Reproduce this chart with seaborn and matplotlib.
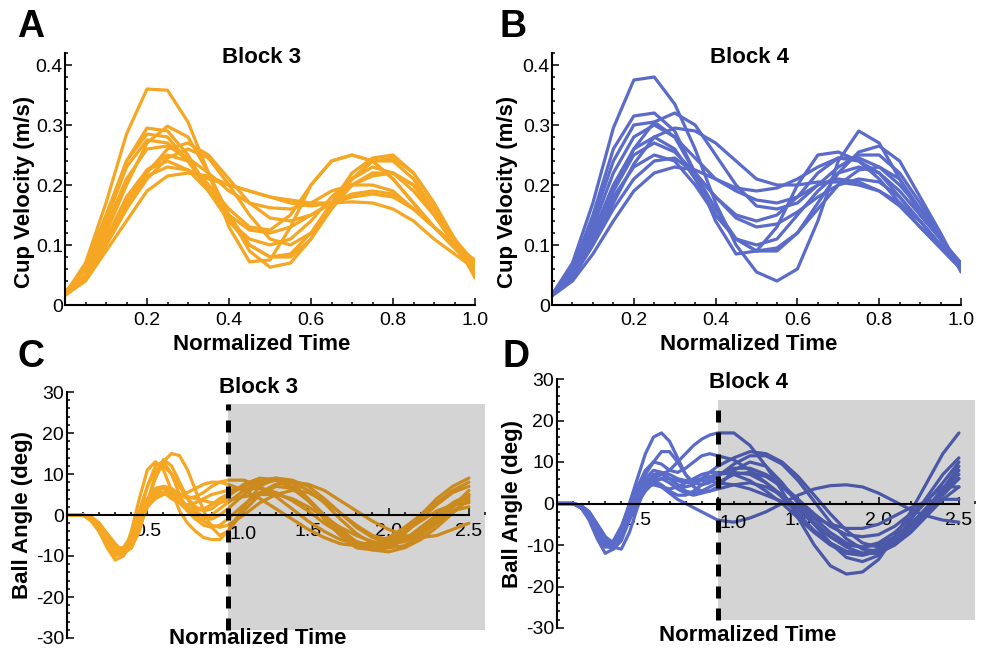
import numpy as np
import pandas as pd
import matplotlib
matplotlib.use("Agg")
import matplotlib.pyplot as plt
import seaborn as sns
from matplotlib.patches import Rectangle
from matplotlib.ticker import MultipleLocator

# ---- data ----
t_cup = [0.0, 0.05, 0.1, 0.15, 0.2, 0.25, 0.3, 0.35, 0.4, 0.45, 0.5,
         0.55, 0.6, 0.65, 0.7, 0.75, 0.8, 0.85, 0.9, 0.95, 1.0]

t_ball = [0.0, 0.05, 0.1, 0.15, 0.2, 0.25, 0.3, 0.35, 0.4, 0.45, 0.5,
          0.55, 0.6, 0.65, 0.7, 0.75, 0.8, 0.85, 0.9, 0.95, 1.0,
          1.1, 1.2, 1.3, 1.4, 1.5, 1.6, 1.7, 1.8, 1.9, 2.0, 2.1, 2.2, 2.3, 2.4, 2.5]

# cup velocity (m/s), block 3
cup_block3 = [
    [0.018, 0.07, 0.17, 0.285, 0.36, 0.358, 0.305, 0.22, 0.13, 0.072, 0.075, 0.13, 0.2, 0.24, 0.25, 0.24, 0.21, 0.17, 0.13, 0.1, 0.075],
    [0.018, 0.06, 0.14, 0.24, 0.295, 0.29, 0.25, 0.19, 0.14, 0.1, 0.08, 0.085, 0.12, 0.17, 0.21, 0.24, 0.24, 0.21, 0.16, 0.11, 0.06],
    [0.017, 0.05, 0.12, 0.2, 0.27, 0.298, 0.28, 0.22, 0.15, 0.09, 0.063, 0.07, 0.11, 0.17, 0.22, 0.245, 0.25, 0.22, 0.17, 0.11, 0.05],
    [0.02, 0.065, 0.15, 0.24, 0.285, 0.28, 0.24, 0.19, 0.14, 0.11, 0.1, 0.11, 0.14, 0.18, 0.21, 0.23, 0.22, 0.19, 0.15, 0.11, 0.07],
    [0.02, 0.06, 0.14, 0.23, 0.275, 0.27, 0.24, 0.2, 0.16, 0.13, 0.125, 0.15, 0.2, 0.24, 0.25, 0.24, 0.21, 0.17, 0.13, 0.1, 0.065],
    [0.017, 0.045, 0.1, 0.16, 0.22, 0.26, 0.27, 0.25, 0.21, 0.17, 0.145, 0.14, 0.15, 0.17, 0.2, 0.215, 0.22, 0.2, 0.16, 0.11, 0.06],
    [0.02, 0.06, 0.13, 0.21, 0.26, 0.265, 0.245, 0.22, 0.19, 0.17, 0.162, 0.16, 0.17, 0.19, 0.2, 0.2, 0.19, 0.16, 0.13, 0.1, 0.07],
    [0.016, 0.045, 0.1, 0.17, 0.225, 0.25, 0.24, 0.2, 0.15, 0.1, 0.08, 0.08, 0.11, 0.16, 0.21, 0.24, 0.245, 0.22, 0.17, 0.11, 0.045],
    [0.018, 0.05, 0.11, 0.17, 0.215, 0.23, 0.225, 0.21, 0.2, 0.19, 0.18, 0.175, 0.17, 0.17, 0.172, 0.17, 0.16, 0.14, 0.11, 0.085, 0.06],
    [0.016, 0.04, 0.09, 0.14, 0.19, 0.215, 0.22, 0.215, 0.2, 0.19, 0.18, 0.17, 0.165, 0.17, 0.18, 0.185, 0.18, 0.16, 0.13, 0.095, 0.06],
    [0.016, 0.045, 0.1, 0.16, 0.21, 0.245, 0.26, 0.245, 0.2, 0.15, 0.11, 0.1, 0.12, 0.16, 0.2, 0.22, 0.22, 0.2, 0.15, 0.1, 0.05],
    [0.017, 0.05, 0.11, 0.18, 0.225, 0.24, 0.225, 0.19, 0.15, 0.125, 0.12, 0.13, 0.15, 0.17, 0.185, 0.19, 0.185, 0.16, 0.13, 0.095, 0.06],
]

# cup velocity (m/s), block 4
cup_block4 = [
    [0.017, 0.07, 0.17, 0.295, 0.375, 0.38, 0.335, 0.26, 0.17, 0.1, 0.055, 0.04, 0.06, 0.14, 0.24, 0.29, 0.27, 0.21, 0.15, 0.11, 0.07],
    [0.017, 0.06, 0.15, 0.26, 0.315, 0.32, 0.29, 0.22, 0.14, 0.085, 0.09, 0.13, 0.2, 0.25, 0.255, 0.24, 0.21, 0.17, 0.13, 0.095, 0.06],
    [0.016, 0.05, 0.11, 0.19, 0.26, 0.305, 0.32, 0.3, 0.25, 0.2, 0.165, 0.16, 0.17, 0.2, 0.23, 0.25, 0.25, 0.22, 0.17, 0.115, 0.06],
    [0.018, 0.06, 0.14, 0.24, 0.3, 0.305, 0.28, 0.22, 0.16, 0.11, 0.09, 0.09, 0.12, 0.17, 0.22, 0.255, 0.265, 0.24, 0.18, 0.12, 0.055],
    [0.016, 0.045, 0.1, 0.17, 0.235, 0.28, 0.295, 0.29, 0.27, 0.24, 0.21, 0.2, 0.2, 0.205, 0.205, 0.2, 0.19, 0.17, 0.14, 0.1, 0.065],
    [0.018, 0.055, 0.13, 0.22, 0.28, 0.3, 0.28, 0.245, 0.21, 0.195, 0.19, 0.195, 0.21, 0.23, 0.245, 0.245, 0.23, 0.2, 0.16, 0.11, 0.06],
    [0.018, 0.055, 0.12, 0.2, 0.26, 0.28, 0.26, 0.21, 0.15, 0.11, 0.1, 0.11, 0.15, 0.19, 0.22, 0.23, 0.22, 0.19, 0.15, 0.11, 0.065],
    [0.017, 0.05, 0.12, 0.19, 0.25, 0.27, 0.255, 0.22, 0.18, 0.15, 0.14, 0.15, 0.18, 0.22, 0.245, 0.24, 0.22, 0.18, 0.14, 0.1, 0.07],
    [0.017, 0.05, 0.11, 0.18, 0.23, 0.25, 0.24, 0.2, 0.15, 0.11, 0.09, 0.095, 0.12, 0.16, 0.2, 0.225, 0.23, 0.21, 0.16, 0.11, 0.06],
    [0.016, 0.045, 0.1, 0.16, 0.21, 0.24, 0.245, 0.22, 0.18, 0.145, 0.13, 0.135, 0.155, 0.18, 0.2, 0.21, 0.205, 0.18, 0.14, 0.1, 0.065],
    [0.015, 0.04, 0.085, 0.14, 0.19, 0.22, 0.23, 0.225, 0.21, 0.19, 0.175, 0.17, 0.18, 0.2, 0.21, 0.205, 0.19, 0.165, 0.13, 0.095, 0.06],
]

# ball angle (deg), block 3
ball_block3 = [
    [0, 0, 0, -1, -4, -8, -11, -10, -4, 4, 11, 13, 11, 6, 1, -2, -4, -5.5, -6, -6, -4,
     2, 7, 9, 8, 4, -1, -5, -8, -8.5, -7, -4, 0, 4, 7, 9],
    [0, 0, 0, -0.5, -2, -5, -8, -9.5, -8, -3, 3, 9, 13, 15, 14.5, 11, 6, 1, -3, -5, -4,
     1, 5, 7, 6.5, 4, 0, -4, -7, -8.5, -8, -6, -3, 0, 3, 5],
    [0, 0, 0, -1, -3, -6.5, -9.5, -10, -6, 0, 7, 12, 13, 10, 5, 1, -1, -1, 0, 1.5, 3,
     6, 8, 8.5, 7, 3.5, -0.5, -4.5, -7, -8, -7, -4.5, -1, 2.5, 5.5, 7],
    [0, 0, 0, -0.5, -2, -5, -7.5, -8.5, -7, -3, 2, 5.5, 7, 6.5, 5, 4, 4.5, 5.5, 7, 8, 8.5,
     8.5, 7, 4.5, 1.5, -1.5, -4, -6, -7, -7, -6, -4, -1.5, 1, 2.5, 3],
    [0, 0, 0, -1, -3, -6, -8.5, -9, -6, -1, 4, 6, 5.5, 4, 3, 2.5, 3, 4, 5, 5.5, 6,
     6.5, 6.5, 5.5, 3.5, 1, -2, -4.5, -6.5, -7.5, -7.5, -6, -3.5, -0.5, 2.5, 4.5],
    [0, 0, 0, -1.5, -4, -7.5, -10, -9, -5, 0, 4, 6.5, 7, 6, 4, 2, 1, 1.5, 2.5, 4, 5,
     7, 8.5, 9, 8.5, 7, 4, 0.5, -3, -5.5, -6.5, -6, -4, -1, 2, 5],
    [0, 0, 0, -1, -3, -6, -8, -8, -5, -1, 2, 4, 5, 5, 4, 2, 0, -1.5, -2.5, -3, -2.5,
     0, 3, 5, 6, 5.5, 3.5, 0.5, -2.5, -5, -6, -5.5, -4, -1.5, 1, 3.5],
    [0, 0, 0, -0.5, -2, -4.5, -7, -9, -8, -4, 3, 10, 13.5, 12, 8, 4, 1, -0.5, -1, 0, 1.5,
     5, 7.5, 8.5, 8, 6, 3, -1, -4.5, -7, -8, -7.5, -5, -2, 2, 6],
    [0, 0, 0, -1, -3.5, -7, -9.5, -9.5, -6, -1, 3, 5, 5.5, 5, 5, 5.5, 6.5, 7.5, 8, 8, 7.5,
     6, 4, 1.5, -1, -3.5, -5.5, -7, -7.5, -7, -5.5, -3, 0, 3, 6, 8],
    [0, 0, 0, -1, -3, -6, -9, -10, -7, -2, 3, 6, 6.5, 5, 3, 1, -1, -2.5, -3, -2.5, -1,
     2.5, 5.5, 7.5, 8, 7.5, 6, 3.5, 1, -1.5, -3.5, -5, -5.5, -5, -3.5, -2],
    [0, 0, 0, -0.5, -2.5, -5.5, -8, -8.5, -6, -2, 2, 4.5, 5.5, 5.5, 5, 4.5, 4, 3.5, 3, 3, 3.5,
     4.5, 5, 5, 4, 2, -0.5, -3, -5, -6.5, -7, -6.5, -4.5, -2, 1, 2],
    [0, 0, 0, -1, -3.5, -7, -9.5, -9, -5, 1, 7, 11, 12, 10, 7, 4, 2, 1, 1.5, 3, 4.5,
     7.5, 9, 8.5, 6.5, 3.5, 0, -3.5, -6.5, -8.5, -9, -8, -6, -3, 0.5, 4],
]

# ball angle (deg), block 4
ball_block4 = [
    [0, 0, 0, -1, -4, -8.5, -12, -11, -6, 0, 6, 12, 16, 17, 15, 11, 7, 4, 3, 3, 4,
     8, 10, 9, 5, 0, -5, -9.5, -13, -14, -12.5, -9, -4, 1.5, 7, 11],
    [0, 0, 0, -0.5, -2.5, -6, -9, -10, -7, -2, 2.5, 4.5, 5, 4, 2.5, 1, 0, -1, -2, -3, -4,
     -4.5, -3.5, -2, 0, 2, 3.5, 4.3, 4.5, 4, 2.5, 0.5, -1.5, -3, -4, -4.5],
    [0, 0, 0, -0.5, -2, -5, -8, -10.5, -11, -7, -1, 4, 6, 7, 8, 10, 12, 14, 15.5, 16.5, 17,
     17, 14, 9, 3, -3.5, -10, -15, -17, -16.5, -13.5, -8, -2, 5, 12, 17],
    [0, 0, 0, -1, -3.5, -7.5, -10.5, -10.5, -7, -2, 3, 7, 10, 12.5, 12.5, 10, 7, 5, 4.5, 5, 6.5,
     9.5, 11.5, 11.5, 9.5, 5.5, 0.5, -4.5, -8.5, -11, -11.5, -10, -6.5, -2, 3, 8],
    [0, 0, 0, -1, -3, -6.5, -9.5, -10, -7, -1.5, 4, 8, 10, 9.5, 8, 7.5, 8.5, 10, 11.5, 12, 11.5,
     10.5, 8, 5, 1.5, -2.5, -6.5, -9.5, -11.5, -12, -11, -8.5, -5, -1, 3.5, 7],
    [0, 0, 0, -1, -3.5, -7, -10, -11, -8.5, -3, 2, 6, 8, 7.5, 6, 4.5, 4, 4.5, 6, 7.5, 9,
     11, 12.5, 12, 10, 6.5, 2, -2.5, -6.5, -9.5, -10.5, -9.5, -6.5, -2.5, 2, 6],
    [0, 0, 0, -0.5, -2.5, -5.5, -8.5, -9.5, -8, -3.5, 1, 4.5, 6.5, 7, 6, 4.5, 3, 2.5, 3, 4, 5,
     7, 7.5, 6.5, 4, 0.5, -3.5, -7, -9.5, -10.5, -10, -8, -5, -1, 3, 6],
    [0, 0, 0, -1, -3, -6.5, -9.5, -9, -5.5, -0.5, 3.5, 5.5, 5.5, 4.5, 3, 2, 2, 3, 4.5, 6, 7,
     8.5, 8.5, 7, 4.5, 1, -2.5, -5.5, -7.5, -8, -7.5, -5.5, -2.5, 1, 4, 4],
    [0, 0, 0, -1, -3.5, -7, -10, -10, -7, -2, 2, 4, 4.5, 4, 3.5, 4, 5, 6, 7, 7.5, 7.5,
     7, 5.5, 3, 0, -3.5, -7, -10, -12, -12.5, -11.5, -9, -5.5, -1.5, 3.5, 9],
    [0, 0, 0, -1, -3, -6, -9, -11, -9, -4, 1, 5, 7, 7.5, 7, 6, 5.5, 5.5, 6, 6.5, 7,
     7.5, 7, 5, 2, -1.5, -5, -8, -10, -10.5, -9.5, -7, -3.5, 0.5, 5, 10],
    [0, 0, 0, -0.5, -2, -5, -8, -9.5, -8, -4, 0, 3, 5, 6, 6, 5.5, 5, 5, 5.5, 5.5, 5,
     4.5, 3.5, 2, 0.5, -1.5, -3.5, -5, -6, -6, -5, -3, -1, 0.5, 1, 1],
    [0, 0, 0, -1, -3, -6.5, -9, -9.5, -7.5, -3, 1.5, 4, 5.5, 6, 5, 3.5, 2.5, 2, 2.5, 3, 3.5,
     4.5, 5, 4, 2, -1, -4.5, -8, -10.5, -12, -12, -10, -7, -3, 1, 4],
]

cup_ticks = [0.2, 0.4, 0.6, 0.8, 1.0]
cup_yticks = [0, 0.1, 0.2, 0.3, 0.4]
ball_ticks = [0.5, 1.0, 1.5, 2.0, 2.5]
ball_yticks = [-30, -20, -10, 0, 10, 20, 30]
release_time = 1.0

ORANGE = "#F5A623"
BLUE = "#5A6BC9"

sns.set_theme(style="ticks")
plt.rcParams["font.family"] = ["Liberation Sans", "DejaVu Sans"]
plt.rcParams.update({
    "axes.unicode_minus": False,
    "text.color": "black",
    "axes.labelcolor": "black",
    "axes.edgecolor": "black",
    "xtick.color": "black",
    "ytick.color": "black",
})

W, H = 986, 649


def to_long(t, curves):
    rows = []
    for i, c in enumerate(curves):
        for x, y in zip(t, c):
            rows.append((i, x, y))
    return pd.DataFrame(rows, columns=["trial", "time", "value"])


def draw_lines(ax, t, curves, color):
    df = to_long(t, curves)
    sns.lineplot(data=df, x="time", y="value", units="trial", estimator=None,
                 color=color, lw=2.3, ax=ax, legend=False)
    for ln in ax.lines:
        ln.set_solid_joinstyle("round")
        ln.set_solid_capstyle("round")


def style_ticks(ax):
    ax.tick_params(which="both", direction="in", color="black", width=1.1,
                   labelsize=14, labelcolor="black")
    ax.tick_params(which="major", length=5)
    ax.tick_params(which="minor", length=2.5)
    for s in ["top", "right"]:
        ax.spines[s].set_visible(False)
    for s in ["left", "bottom"]:
        ax.spines[s].set_color("black")
        ax.spines[s].set_linewidth(1.5)


def cup_panel(rect, curves, color, title, title_x, ylab_x):
    l, t, r, b = rect
    ax = fig.add_axes([l / W, 1 - b / H, (r - l) / W, (b - t) / H])
    draw_lines(ax, t_cup, curves, color)
    ax.set_xlim(0, 1)
    ax.set_ylim(0, 0.42)
    style_ticks(ax)
    ax.set_xticks(cup_ticks)
    ax.set_xticklabels([f"{v:.1f}" for v in cup_ticks])
    ax.xaxis.set_minor_locator(MultipleLocator(0.05))
    ax.set_yticks(cup_yticks)
    ax.set_yticklabels(["0"] + [f"{v:.1f}" for v in cup_yticks[1:]])
    ax.yaxis.set_minor_locator(MultipleLocator(0.02))
    ax.tick_params(axis="x", pad=5)
    ax.tick_params(axis="y", pad=1.5)
    ax.set_xlabel("Normalized Time", fontsize=16, fontweight="bold", va="top")
    ax.xaxis.set_label_coords(0.48, -0.115)
    ax.set_ylabel("Cup Velocity (m/s)", fontsize=16, fontweight="bold")
    ax.yaxis.set_label_coords(ylab_x, 0.45)
    ax.text(title_x, 0.984, title, transform=ax.transAxes, ha="center", va="center",
            fontsize=16, fontweight="bold")
    return ax


def ball_panel(rect, curves, color, title, title_y, xlab_y, shade):
    l, t, r, b = rect
    ax = fig.add_axes([l / W, 1 - b / H, (r - l) / W, (b - t) / H])
    draw_lines(ax, t_ball, curves, color)
    ax.set_xlim(0, 2.6)
    ax.set_ylim(-30, 30)
    style_ticks(ax)
    ax.spines["bottom"].set_position(("data", 0))
    ax.spines["bottom"].set_bounds(0, 2.5)
    ax.set_xticks(ball_ticks)
    ax.set_xticklabels(["" if v == release_time else f"{v:.1f}" for v in ball_ticks])
    ax.xaxis.set_minor_locator(MultipleLocator(0.1))
    ax.set_yticks(ball_yticks)
    ax.set_yticklabels([str(v) for v in ball_yticks])
    ax.yaxis.set_minor_locator(MultipleLocator(2))
    ax.tick_params(axis="x", pad=6)
    ax.tick_params(axis="y", pad=2)
    # "1.0" sits just right of the release line
    ax.annotate(f"{release_time:.1f}", xy=(release_time, 0), xytext=(11, -8),
                textcoords="offset points", ha="center", va="top", fontsize=14,
                color="black")
    # shaded post-release window, drawn over the traces
    lo, hi = shade
    ax.add_patch(Rectangle((release_time, lo), 2.6 - release_time, hi - lo,
                           facecolor="black", alpha=0.17, lw=0, zorder=2.1))
    ax.plot([release_time, release_time], [lo, hi], color="black", lw=3.6,
            dashes=(2.4, 2.0), zorder=3)
    ax.set_xlabel("Normalized Time", fontsize=16, fontweight="bold", va="top")
    ax.xaxis.set_label_coords(0.457, xlab_y)
    ax.set_ylabel("Ball Angle (deg)", fontsize=16, fontweight="bold")
    ax.yaxis.set_label_coords(-0.081, 0.5)
    ax.text(0.457, title_y, title, transform=ax.transAxes, ha="center", va="center",
            fontsize=16, fontweight="bold")
    return ax


fig = plt.figure(figsize=(W / 100, H / 100), dpi=100)

cup_panel((65, 53, 475, 305), cup_block3, ORANGE, "Block 3", 0.48, -0.073)
cup_panel((552, 53, 961, 305), cup_block4, BLUE, "Block 4", 0.484, -0.083)
ball_panel((67, 392, 485, 638), ball_block3, ORANGE, "Block 3", 1.02, 0.04, (-28, 27))
ball_panel((557, 379, 975, 628), ball_block4, BLUE, "Block 4", 0.984, 0.012, (-28, 25))

for letter, x, y in [("A", 31, 27), ("B", 513, 27), ("C", 31, 357), ("D", 516, 357)]:
    fig.text(x / W, 1 - y / H, letter, ha="center", va="center",
             fontsize=27, fontweight="bold")

fig.savefig("out.png", dpi=100)
